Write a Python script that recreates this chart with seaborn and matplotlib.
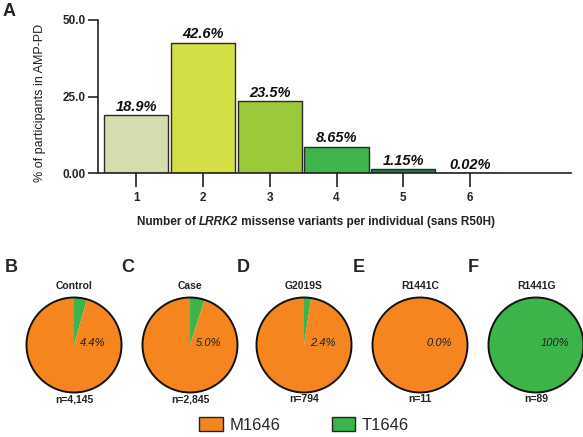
import matplotlib
matplotlib.use("Agg")
import matplotlib.pyplot as plt
from matplotlib.patches import Patch, Circle
import pandas as pd
import seaborn as sns

# panel A: number of LRRK2 missense variants per individual
n_variants = ["1", "2", "3", "4", "5", "6"]
pct_participants = [18.9, 42.6, 23.5, 8.65, 1.15, 0.02]
bar_labels = ["18.9%", "42.6%", "23.5%", "8.65%", "1.15%", "0.02%"]
bar_colors = ["#d6dbb0", "#d3df45", "#9cc93a", "#3db54a", "#1f7a47", "#174d2c"]

# panels B-F: M1646 / T1646 split per group
groups = ["Control", "Case", "G2019S", "R1441C", "R1441G"]
group_letters = ["B", "C", "D", "E", "F"]
t1646_pct = [4.4, 5.0, 2.4, 0.0, 100.0]
pct_labels = ["4.4%", "5.0%", "2.4%", "0.0%", "100%"]
group_n = ["n=4,145", "n=2,845", "n=794", "n=11", "n=89"]

orange = "#f5861f"
green = "#3cb44a"

sns.set_style("ticks")
plt.rcParams["font.family"] = ["Liberation Sans", "DejaVu Sans"]

W, H = 583, 437
fig = plt.figure(figsize=(5.83, 4.37), dpi=100)
fig.patch.set_facecolor("white")


def fx(px):
    return px / W


def fy(py):
    return 1 - py / H


# ---- bar chart (A)
ax = fig.add_axes([fx(98), fy(173), fx(571) - fx(98), fy(20) - fy(173)])
df = pd.DataFrame({"n": n_variants, "pct": pct_participants})
sns.barplot(data=df, x="n", y="pct", hue="n", palette=bar_colors, legend=False,
            width=0.96, edgecolor="#2a2a2a", linewidth=1, saturation=1, ax=ax)
for cont, lab in zip(ax.containers, bar_labels):
    ax.bar_label(cont, labels=[lab], padding=1, fontsize=10.5,
                 fontweight="bold", fontstyle="italic", color="#111")

ax.set_xlim(-0.57, 6.51)
ax.set_ylim(0, 50)
ax.set_yticks([0, 25, 50])
ax.set_yticklabels(["0.00", "25.0", "50.0"])
sns.despine(ax=ax)
for s in ["left", "bottom"]:
    ax.spines[s].set_linewidth(1.2)
    ax.spines[s].set_color("#222")
ax.tick_params(axis="y", length=7, width=1.2, labelsize=8.5, pad=2, color="#222")
ax.tick_params(axis="x", length=10, width=1.2, labelsize=8.5, pad=4, color="#222")
for t in ax.get_xticklabels() + ax.get_yticklabels():
    t.set_fontweight("bold")
ax.set_xlabel("")
ax.set_ylabel("% of participants in AMP-PD", fontsize=9, color="#222")
ax.yaxis.set_label_coords(-0.11, 0.46)

# x label with italic gene name
t1 = fig.text(fx(137), fy(222), "Number of ", fontsize=8.5, fontweight="bold",
              va="center", color="#222")
t2 = ax.annotate("LRRK2", xycoords=t1, xy=(1, 0), va="bottom", fontsize=8.5,
                 fontweight="bold", fontstyle="italic", color="#222")
ax.annotate(" missense variants per individual (sans R50H)", xycoords=t2,
            xy=(1, 0), va="bottom", fontsize=8.5, fontweight="bold", color="#222")

fig.text(fx(3), fy(11), "A", fontsize=13, fontweight="bold", va="center")

# ---- pies (B-F)
centers_x = [74, 190, 304, 420, 536]
cy = 345
r = 47.5 * 1.03
for i, g in enumerate(groups):
    cx = centers_x[i]
    pax = fig.add_axes([fx(cx - r), fy(cy + r), 2 * r / W, 2 * r / H])
    vals = [t1646_pct[i], 100 - t1646_pct[i]]
    cols = [green, orange]
    keep = [k for k, v in enumerate(vals) if v > 0]
    pax.pie([vals[k] for k in keep], colors=[cols[k] for k in keep],
            startangle=90, counterclock=False, wedgeprops=dict(linewidth=0))
    pax.add_patch(Circle((0, 0), 1, fill=False, lw=1.4, ec="#111"))
    pax.set_xlim(-1.03, 1.03)
    pax.set_ylim(-1.03, 1.03)
    pax.text(0, 1.24, g, ha="center", va="center", fontsize=7.5,
             fontweight="bold", color="#222")
    pax.text(0, -1.14, group_n[i], ha="center", va="center", fontsize=7.5,
             fontweight="bold", color="#222")
    pax.text(0.4, 0.04, pct_labels[i], ha="center", va="center", fontsize=8,
             fontstyle="italic", color="#222")

letter_x = [5, 121, 237, 353, 468]
for lx, lt in zip(letter_x, group_letters):
    fig.text(fx(lx), fy(267), lt, fontsize=13, fontweight="bold", va="center")

handles = [Patch(fc=orange, ec="#222", label="M1646"),
           Patch(fc=green, ec="#222", label="T1646")]
fig.legend(handles=handles, loc="center", bbox_to_anchor=(fx(304), fy(425)),
           ncol=2, frameon=False, fontsize=12, handlelength=1.4,
           handleheight=0.9, handletextpad=0.4, columnspacing=3.1)

fig.savefig("out.png", dpi=100)
